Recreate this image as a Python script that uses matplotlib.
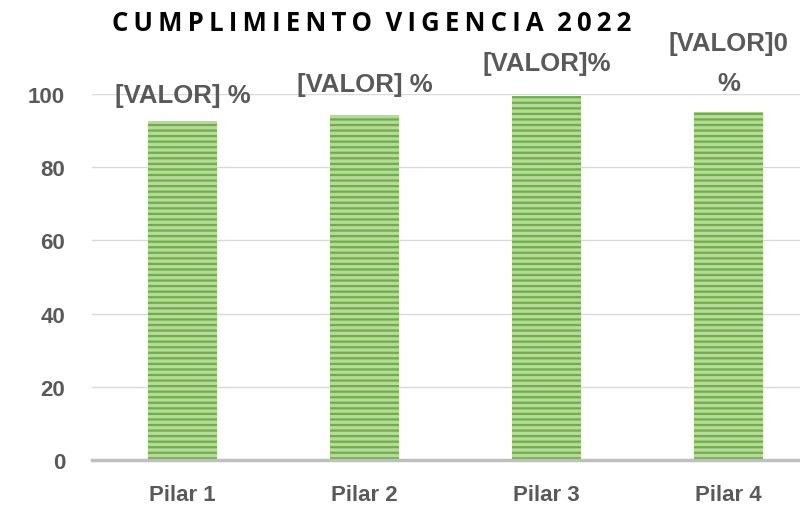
import matplotlib.pyplot as plt

pilares = ["Pilar 1", "Pilar 2", "Pilar 3", "Pilar 4"]
cumplimiento = [92.6, 94.3, 99.5, 95.1]
etiquetas = ["[VALOR] %", "[VALOR] %", "[VALOR]%", "[VALOR]0\n%"]
yticks = [0, 20, 40, 60, 80, 100]
titulo = "CUMPLIMIENTO VIGENCIA 2022"

fuente = ["Liberation Sans", "DejaVu Sans"]
gris = "#595959"

fig = plt.figure(figsize=(8, 5.06), dpi=100)
# axes deliberately runs past the right edge, like the cropped original
ax = fig.add_axes([91.5 / 800, 45 / 506, 728 / 800, 366 / 506])

plt.rcParams['hatch.linewidth'] = 1.6
x = range(len(pilares))
ax.bar(x, cumplimiento, width=0.375, color="#b5db9b",
       edgecolor="#70ad47", hatch="---", linewidth=0, zorder=3)

ax.set_xlim(-0.5, 3.5)
ax.set_ylim(0, 100)
ax.set_yticks(yticks)
ax.yaxis.grid(True, color="#d9d9d9", linewidth=1, zorder=0)
ax.set_axisbelow(True)
for s in ["top", "right", "left"]:
    ax.spines[s].set_visible(False)
ax.spines["bottom"].set_color("#bfbfbf")
ax.spines["bottom"].set_linewidth(2.5)
ax.spines["bottom"].set_zorder(4)
ax.tick_params(length=0)
ax.set_xticks(list(x))
ax.set_xticklabels(pilares)
ax.tick_params(axis="x", pad=17)
ax.tick_params(axis="y", pad=19)
for lab in ax.get_xticklabels() + ax.get_yticklabels():
    lab.set_fontsize(16)
    lab.set_fontweight("bold")
    lab.set_color(gris)
    lab.set_family(fuente)

# data labels sit above the bars, staggered as in the original
label_y = [99.7, 102.7, 108.5, 113.8]
for i, (txt, yy) in enumerate(zip(etiquetas, label_y)):
    for j, linea in enumerate(txt.split("\n")):
        ax.text(i, yy - j * 10.7, linea, ha="center", va="center",
                fontsize=18.5, fontweight="bold", color=gris,
                family=fuente, clip_on=False)

# letter-spaced title
fig.text(372 / 800, 1 - 24 / 506, "\u2009".join(titulo).replace("\u2009 \u2009", "  "),
         ha="center", va="center", fontsize=18.5, fontweight="bold",
         color="black", family=["Open Sans", "DejaVu Sans"])

fig.savefig("out.png", dpi=100)
